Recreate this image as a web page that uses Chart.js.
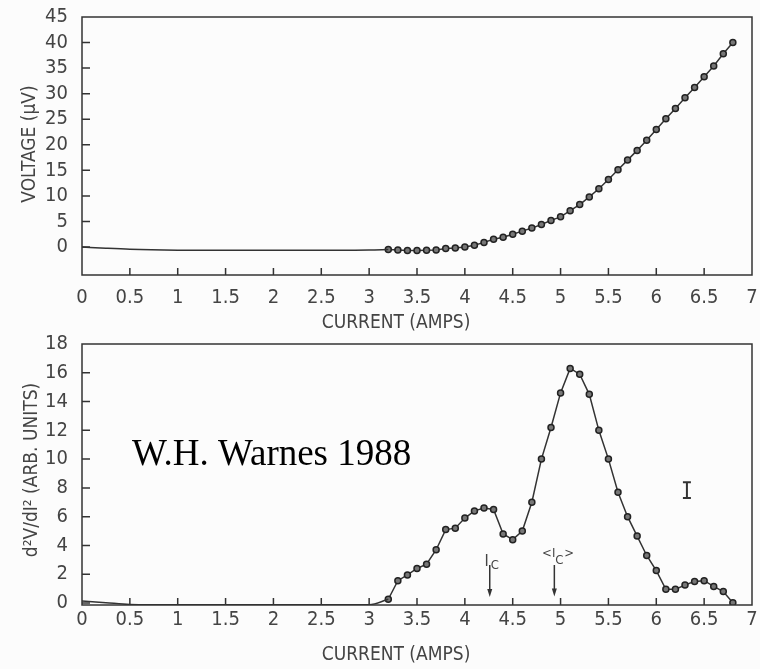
<!DOCTYPE html>
<html>
<head>
<meta charset="utf-8">
<script src="https://cdn.jsdelivr.net/npm/chart.js@4.4.1/dist/chart.umd.min.js"></script>
<style>
  html, body { margin: 0; padding: 0; background: #fcfcfc; }
  #wrap { position: relative; width: 760px; height: 669px; }
  canvas { display: block; }
</style>
</head>
<body>
<div id="wrap">
  <canvas id="voltChart" width="760" height="333"></canvas>
  <canvas id="derivChart" width="760" height="336"></canvas>
</div>
<script>
var currentI = [3.2, 3.3, 3.4, 3.5, 3.6, 3.7, 3.8, 3.9, 4.0, 4.1, 4.2, 4.3, 4.4, 4.5, 4.6, 4.7, 4.8, 4.9, 5.0,
  5.1, 5.2, 5.3, 5.4, 5.5, 5.6, 5.7, 5.8, 5.9, 6.0, 6.1, 6.2, 6.3, 6.4, 6.5, 6.6, 6.7, 6.8];
var voltageUV = [-0.5, -0.6, -0.7, -0.7, -0.65, -0.6, -0.3, -0.2, 0.0, 0.33, 0.9, 1.5, 1.9, 2.5, 3.1, 3.7, 4.4, 5.2, 5.9,
  7.1, 8.3, 9.8, 11.4, 13.2, 15.1, 17.0, 18.9, 20.9, 23.0, 25.1, 27.1, 29.2, 31.2, 33.3, 35.4, 37.8, 40.0];
var d2vdi2 = [0.26, 1.55, 1.95, 2.4, 2.7, 3.7, 5.1, 5.2, 5.9, 6.4, 6.6, 6.5, 4.8, 4.4, 5.0, 7.0, 10.0, 12.2, 14.6,
  16.3, 15.9, 14.5, 12.0, 10.0, 7.7, 6.0, 4.65, 3.3, 2.25, 0.95, 0.95, 1.25, 1.5, 1.55, 1.15, 0.8, 0.02];

// low-current trace (no markers)
var lowVoltI = [0, 0.25, 0.5, 1, 1.5, 2, 2.5, 3, 3.2];
var lowVoltUV = [0, -0.25, -0.45, -0.62, -0.65, -0.65, -0.65, -0.6, -0.5];
var lowDerivI = [0, 0.25, 0.5, 1, 2, 3, 3.2];
var lowDeriv = [0.14, 0.02, -0.1, -0.12, -0.12, -0.12, 0.26];

// ticks
var currentTicks = [0, 0.5, 1, 1.5, 2, 2.5, 3, 3.5, 4, 4.5, 5, 5.5, 6, 6.5, 7];
var voltageTicks = [0, 5, 10, 15, 20, 25, 30, 35, 40, 45];
var derivTicks = [0, 2, 4, 6, 8, 10, 12, 14, 16, 18];

// annotations (data units)
var icArrows = [{ x: 4.26, from: 2.64, to: 0.42 }, { x: 4.935, from: 2.64, to: 0.45 }];
var errorBar = { x: 6.32, lo: 7.3, hi: 8.4 };

var INK = "#333";
var TICK_FONT = { family: '"DejaVu Sans Condensed", "DejaVu Sans", sans-serif', size: 20 };
var FONT_STR = '"DejaVu Sans Condensed", "DejaVu Sans", sans-serif';

function toPoints(xs, ys) {
  return xs.map(function (x, i) { return { x: x, y: ys[i] }; });
}
function fixedTicks(values) {
  return function (scale) { scale.ticks = values.map(function (v) { return { value: v }; }); };
}

// ——— frame + inward tick marks ———
var framePlugin = {
  id: "frame",
  afterDraw: function (chart) {
    var ctx = chart.ctx, a = chart.chartArea;
    var xs = chart.scales.x, ys = chart.scales.y;
    ctx.save();
    ctx.strokeStyle = INK;
    ctx.lineWidth = 1.5;
    ctx.strokeRect(a.left, a.top, a.right - a.left, a.bottom - a.top);
    ctx.beginPath();
    xs.ticks.forEach(function (t) {
      if (t.value <= xs.min || t.value >= xs.max) return;
      var px = xs.getPixelForValue(t.value);
      ctx.moveTo(px, a.bottom);
      ctx.lineTo(px, a.bottom - 7);
    });
    ys.ticks.forEach(function (t) {
      if (t.value >= ys.max) return;
      var py = ys.getPixelForValue(t.value);
      ctx.moveTo(a.left, py);
      ctx.lineTo(a.left + 8, py);
    });
    ctx.stroke();
    ctx.restore();
  }
};

function axisTitles(xTitle, xPos, yTitle, yPos) {
  return {
    id: "titles",
    afterDraw: function (chart) {
      var ctx = chart.ctx;
      ctx.save();
      ctx.fillStyle = "#444";
      ctx.font = "19px " + FONT_STR;
      ctx.textAlign = "center";
      ctx.textBaseline = "middle";
      ctx.fillText(xTitle, xPos[0], xPos[1]);
      ctx.translate(yPos[0], yPos[1]);
      ctx.rotate(-Math.PI / 2);
      ctx.fillText(yTitle, 0, 0);
      ctx.restore();
    }
  };
}

function baseOptions(yMin, yMax, yTicks, padTop, xAxisH, xTickPad) {
  return {
    responsive: false,
    animation: false,
    layout: { padding: { top: padTop, right: 8, left: 0, bottom: 0 } },
    plugins: { legend: { display: false }, tooltip: { enabled: false } },
    scales: {
      x: {
        type: "linear", min: 0, max: 7,
        afterBuildTicks: fixedTicks(currentTicks),
        afterFit: function (s) { s.height = xAxisH; s.paddingLeft = 0; s.paddingRight = 0; },
        grid: { display: false, drawTicks: false },
        border: { display: false },
        ticks: { font: TICK_FONT, color: "#444", padding: xTickPad, maxRotation: 0, autoSkip: false,
          callback: function (v) { return String(v); } }
      },
      y: {
        type: "linear", min: yMin, max: yMax,
        afterBuildTicks: fixedTicks(yTicks),
        afterFit: function (s) { s.width = 82; s.paddingTop = 0; s.paddingBottom = 0; },
        grid: { display: false, drawTicks: false },
        border: { display: false },
        ticks: { font: TICK_FONT, color: "#444", padding: 14, autoSkip: false,
          callback: function (v) { return String(v); } }
      }
    }
  };
}

function markerSet(points) {
  return {
    data: points,
    borderColor: INK, borderWidth: 1.5, tension: 0,
    pointRadius: 3, pointBorderWidth: 1.5,
    pointBackgroundColor: "#777", pointBorderColor: "#222"
  };
}
function plainSet(points) {
  return {
    data: points,
    borderColor: INK, borderWidth: 1.5,
    cubicInterpolationMode: "monotone", pointRadius: 0
  };
}

// ——— Voltage vs current ———
new Chart(document.getElementById("voltChart"), {
  type: "line",
  data: { datasets: [plainSet(toPoints(lowVoltI, lowVoltUV)), markerSet(toPoints(currentI, voltageUV))] },
  options: baseOptions(-5.48, 45, voltageTicks, 17, 58, 11),
  plugins: [framePlugin, axisTitles("CURRENT (AMPS)", [396, 323], "VOLTAGE (\u03bcV)", [30, 144])]
});

// ——— Second derivative ———
var notesPlugin = {
  id: "notes",
  afterDraw: function (chart) {
    var ctx = chart.ctx, xs = chart.scales.x, ys = chart.scales.y;
    ctx.save();
    ctx.strokeStyle = INK;
    ctx.fillStyle = INK;
    ctx.lineWidth = 1.5;
    icArrows.forEach(function (a, i) {
      var px = xs.getPixelForValue(a.x);
      var top = ys.getPixelForValue(a.from), bot = ys.getPixelForValue(a.to);
      ctx.beginPath();
      ctx.moveTo(px, top);
      ctx.lineTo(px, bot - 6);
      ctx.stroke();
      ctx.beginPath();
      ctx.moveTo(px - 2.5, bot - 8);
      ctx.lineTo(px + 2.5, bot - 8);
      ctx.lineTo(px, bot);
      ctx.closePath();
      ctx.fill();
      ctx.fillStyle = "#444";
      if (i === 0) {
        ctx.font = "16px " + FONT_STR;
        ctx.textAlign = "center";
        ctx.fillText("I", px - 3, top + 1);
        ctx.font = "13px " + FONT_STR;
        ctx.textAlign = "left";
        ctx.fillText("C", px + 1, top + 4);
      } else {
        ctx.font = "13px " + FONT_STR;
        ctx.textAlign = "right";
        ctx.fillText("<I", px + 1, top - 8);
        ctx.textAlign = "left";
        ctx.fillText("C", px + 1, top - 1);
        ctx.fillText(">", px + 10, top - 8);
      }
      ctx.fillStyle = INK;
    });

    // error bar
    var ex = xs.getPixelForValue(errorBar.x);
    var eh = ys.getPixelForValue(errorBar.hi), el = ys.getPixelForValue(errorBar.lo);
    ctx.lineWidth = 2;
    ctx.beginPath();
    ctx.moveTo(ex, eh); ctx.lineTo(ex, el);
    ctx.moveTo(ex - 4, eh); ctx.lineTo(ex + 4, eh);
    ctx.moveTo(ex - 4, el); ctx.lineTo(ex + 4, el);
    ctx.stroke();

    // credit
    ctx.fillStyle = "#000";
    ctx.font = '37px "Liberation Serif", "Times New Roman", serif';
    ctx.textAlign = "left";
    ctx.textBaseline = "alphabetic";
    ctx.fillText("W.H. Warnes 1988", 132, 132);
    ctx.restore();
  }
};

new Chart(document.getElementById("derivChart"), {
  type: "line",
  data: { datasets: [plainSet(toPoints(lowDerivI, lowDeriv)), markerSet(toPoints(currentI, d2vdi2))] },
  options: baseOptions(-0.14, 18, derivTicks, 11, 64, 3),
  plugins: [framePlugin, notesPlugin,
    axisTitles("CURRENT (AMPS)", [396, 322], "d\u00b2V/dI\u00b2 (ARB. UNITS)", [32, 137])]
});
</script>
</body>
</html>
